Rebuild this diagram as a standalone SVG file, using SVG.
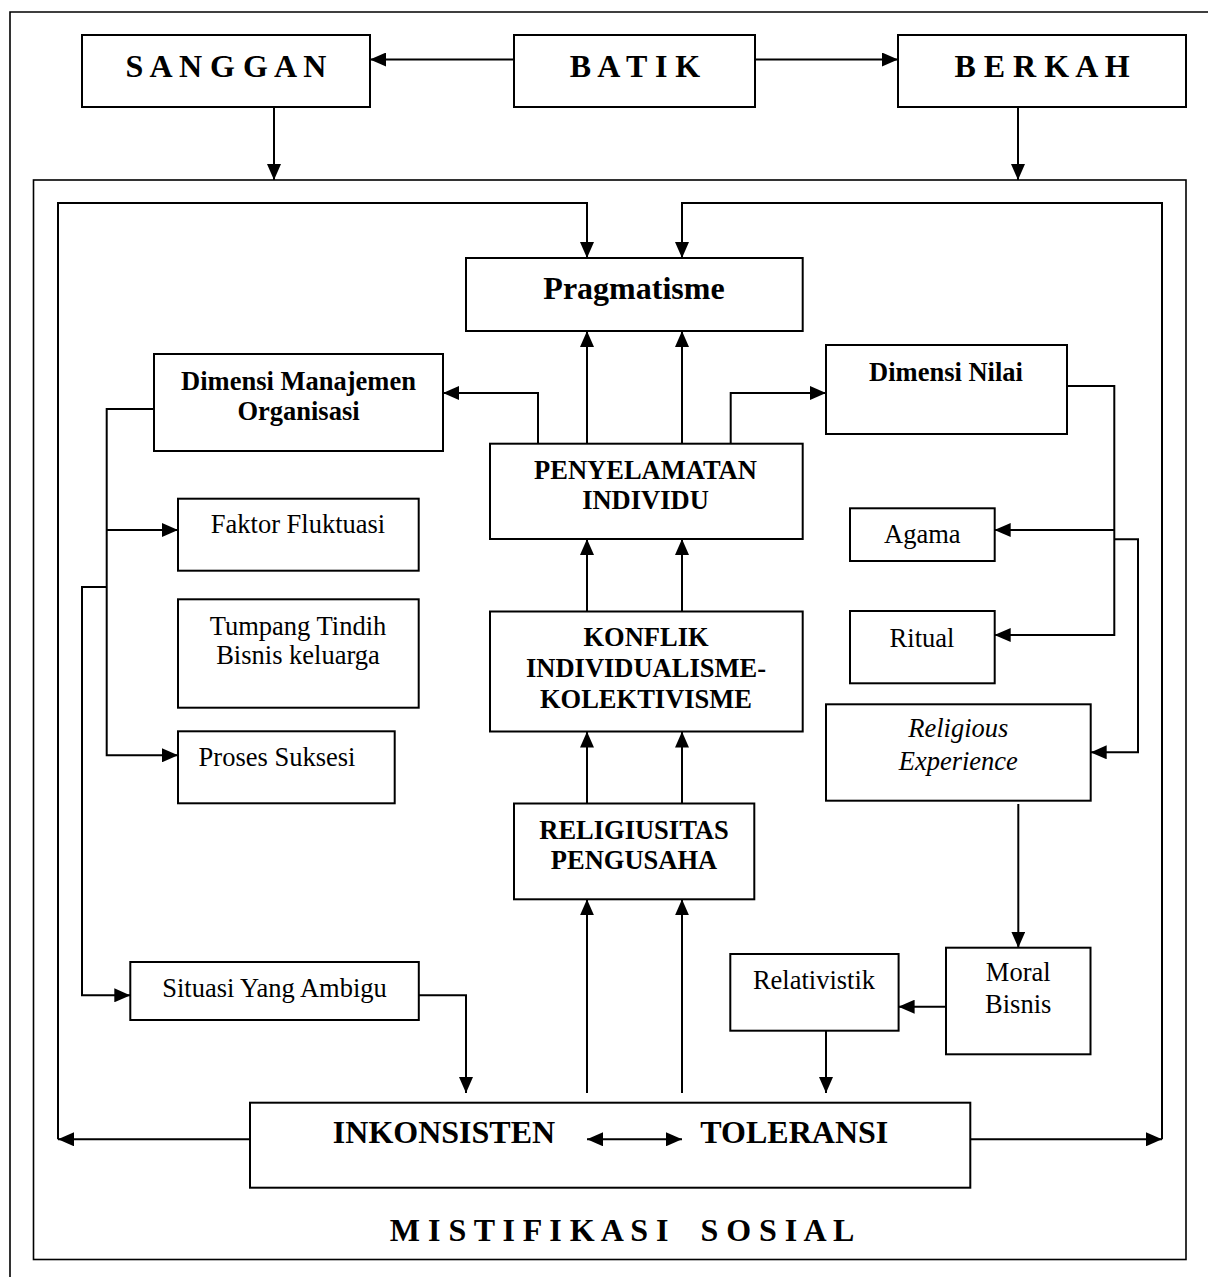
<svg xmlns="http://www.w3.org/2000/svg" width="1208" height="1277" viewBox="0 0 1208 1277">
  <style>
    .box { fill: #fff; stroke: #000; stroke-width: 2; }
    .frame { fill: none; stroke: #000; stroke-width: 1.6; }
    .wire { fill: none; stroke: #000; stroke-width: 2; }
    .arr { marker-end: url(#head); }
    text { font-family: "Liberation Serif", "Times New Roman", serif; fill: #000; text-anchor: middle; }
    .big { font-size: 32px; font-weight: bold; }
    .bold { font-size: 26.5px; font-weight: bold; }
    .reg { font-size: 26.5px; }
    .ital { font-size: 26.5px; font-style: italic; }
  </style>
  <defs>
    <marker id="head" markerUnits="userSpaceOnUse" markerWidth="16" markerHeight="14" refX="16" refY="7" orient="auto-start-reverse">
      <path d="M0,0 L16,7 L0,14 z" fill="#000"/>
    </marker>
  </defs>
  <rect width="1208" height="1277" fill="#fff"/>

  <!-- page border and the social-mystification frame -->
  <g id="frames">
    <path class="frame" d="M10,1277 V12 H1208"/>
    <rect class="frame" x="33.5" y="180" width="1152.5" height="1079.5"/>
    <text class="big" x="622" y="1241" xml:space="preserve">M I S T I F I K A S I    S O S I A L</text>
  </g>

  <g id="sanggan">
    <rect class="box" x="82" y="35" width="288" height="72"/>
    <text class="big" x="226" y="77">S A N G G A N</text>
  </g>
  <g id="batik">
    <rect class="box" x="514" y="35" width="241" height="72"/>
    <text class="big" x="635" y="77">B A T I K</text>
  </g>
  <g id="berkah">
    <rect class="box" x="898" y="35" width="288" height="72"/>
    <text class="big" x="1042" y="77">B E R K A H</text>
  </g>

  <g id="pragmatisme">
    <rect class="box" x="466" y="258" width="336.7" height="73"/>
    <text class="big" x="634" y="298.5">Pragmatisme</text>
  </g>
  <g id="dimensi-manajemen">
    <rect class="box" x="154" y="354" width="289" height="97"/>
    <text class="bold" x="298.5" y="390">Dimensi Manajemen</text>
    <text class="bold" x="298.5" y="420">Organisasi</text>
  </g>
  <g id="dimensi-nilai">
    <rect class="box" x="826" y="345" width="241" height="89"/>
    <text class="bold" x="946" y="381">Dimensi Nilai</text>
  </g>
  <g id="penyelamatan">
    <rect class="box" x="490" y="443.7" width="312.7" height="95.3"/>
    <text class="bold" x="645.5" y="479">PENYELAMATAN</text>
    <text class="bold" x="645.5" y="509">INDIVIDU</text>
  </g>
  <g id="konflik">
    <rect class="box" x="490" y="611.5" width="312.7" height="120"/>
    <text class="bold" x="646" y="646">KONFLIK</text>
    <text class="bold" x="646" y="677">INDIVIDUALISME-</text>
    <text class="bold" x="646" y="708">KOLEKTIVISME</text>
  </g>
  <g id="religiusitas">
    <rect class="box" x="514" y="803.5" width="240.3" height="95.8"/>
    <text class="bold" x="634" y="839">RELIGIUSITAS</text>
    <text class="bold" x="634" y="869">PENGUSAHA</text>
  </g>

  <g id="faktor-fluktuasi">
    <rect class="box" x="178" y="498.7" width="240.7" height="72"/>
    <text class="reg" x="298" y="533">Faktor Fluktuasi</text>
  </g>
  <g id="tumpang-tindih">
    <rect class="box" x="178" y="599.3" width="240.7" height="108.4"/>
    <text class="reg" x="298" y="635">Tumpang Tindih</text>
    <text class="reg" x="298" y="664">Bisnis keluarga</text>
  </g>
  <g id="proses-suksesi">
    <rect class="box" x="178" y="731.3" width="216.7" height="72"/>
    <text class="reg" x="277" y="766">Proses Suksesi</text>
  </g>
  <g id="situasi-ambigu">
    <rect class="box" x="130.3" y="962" width="288.5" height="58"/>
    <text class="reg" x="274.5" y="997">Situasi Yang Ambigu</text>
  </g>

  <g id="agama">
    <rect class="box" x="850" y="508.3" width="144.7" height="52.7"/>
    <text class="reg" x="922.3" y="543">Agama</text>
  </g>
  <g id="ritual">
    <rect class="box" x="850" y="611" width="144.7" height="72.3"/>
    <text class="reg" x="922" y="647">Ritual</text>
  </g>
  <g id="religious-experience">
    <rect class="box" x="826" y="704.3" width="264.7" height="96.4"/>
    <text class="ital" x="958.3" y="737">Religious</text>
    <text class="ital" x="958.3" y="770">Experience</text>
  </g>
  <g id="moral-bisnis">
    <rect class="box" x="946" y="947.7" width="144.5" height="106.6"/>
    <text class="reg" x="1018.2" y="981">Moral</text>
    <text class="reg" x="1018.2" y="1013.3">Bisnis</text>
  </g>
  <g id="relativistik">
    <rect class="box" x="730.3" y="954" width="168.3" height="76.7"/>
    <text class="reg" x="814" y="989.3">Relativistik</text>
  </g>

  <g id="inkonsisten-toleransi">
    <rect class="box" x="250" y="1102.7" width="720.3" height="85"/>
    <text class="big" x="444" y="1143.3">INKONSISTEN</text>
    <text class="big" x="794.3" y="1143.3">TOLERANSI</text>
  </g>

  <!-- connectors are drawn last so the two-way arrow inside the bottom box stays visible -->
  <g id="connectors">
    <!-- top row -->
    <path class="wire arr" d="M514,59.5 H370"/>
    <path class="wire arr" d="M755,59.5 H898"/>
    <path class="wire arr" d="M274,107 V180"/>
    <path class="wire arr" d="M1018,107 V180"/>
    <!-- feedback loop back into Pragmatisme -->
    <path class="wire arr" d="M250,1139.3 H58"/>
    <path class="wire arr" d="M58,1139.3 V203 H587 V258"/>
    <path class="wire arr" d="M970,1139.3 H1162"/>
    <path class="wire arr" d="M1162,1139.3 V203 H682 V258"/>
    <!-- central column -->
    <path class="wire arr" d="M587,443.7 V331"/>
    <path class="wire arr" d="M682,443.7 V331"/>
    <path class="wire arr" d="M538,443.7 V393 H443"/>
    <path class="wire arr" d="M730.7,443.7 V393 H826"/>
    <path class="wire arr" d="M587,611.5 V539"/>
    <path class="wire arr" d="M682,611.5 V539"/>
    <path class="wire arr" d="M587,803.5 V731.5"/>
    <path class="wire arr" d="M682,803.5 V731.5"/>
    <path class="wire arr" d="M587,1093 V899.3"/>
    <path class="wire arr" d="M682,1093 V899.3"/>
    <path class="wire" d="M587,1139.3 H682" marker-start="url(#head)" marker-end="url(#head)"/>
    <!-- management dimension branch -->
    <path class="wire" d="M154,409 H106.7 V587"/>
    <path class="wire arr" d="M106.7,587 V755.3 H178"/>
    <path class="wire arr" d="M106.7,530 H178"/>
    <path class="wire arr" d="M106.7,587 H82 V995.3 H130.3"/>
    <path class="wire arr" d="M418.8,995.3 H466 V1093"/>
    <!-- value dimension branch -->
    <path class="wire arr" d="M1067,386 H1114.3 V635 H994.7"/>
    <path class="wire arr" d="M1114.3,530 H994.7"/>
    <path class="wire arr" d="M1114.3,539.3 H1138 V752.3 H1090.7"/>
    <path class="wire arr" d="M1018.3,804 V947.7"/>
    <path class="wire arr" d="M946,1006.7 H898.6"/>
    <path class="wire arr" d="M826,1030.7 V1093"/>
  </g>
</svg>
